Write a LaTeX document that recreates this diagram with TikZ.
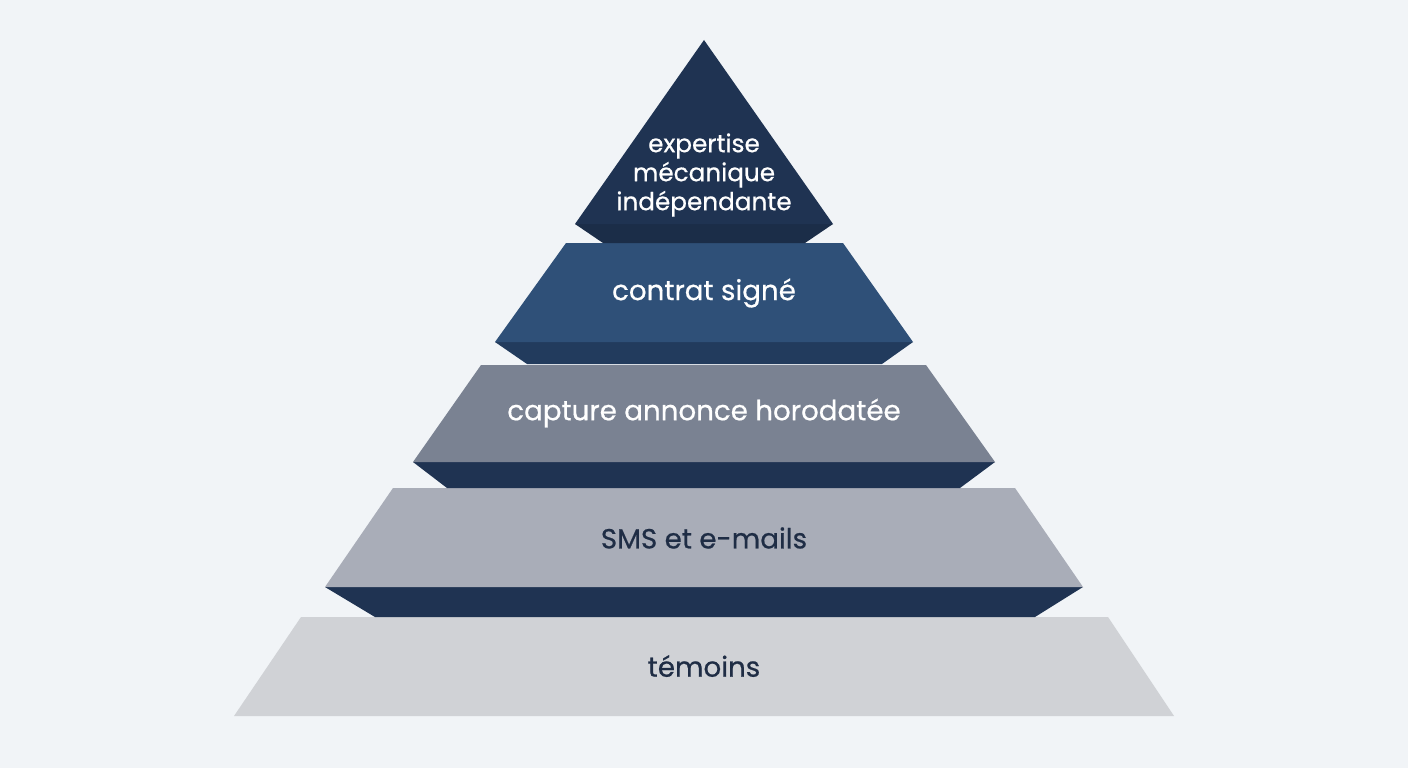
\documentclass[tikz,border=0pt]{standalone}
\usepackage{fontspec}
\setmainfont{Poppins}[FakeBold=0.6]
\definecolor{bg}{HTML}{F1F4F7}
\definecolor{navy}{HTML}{1F3352}
\definecolor{navyd}{HTML}{1B2D48}
\definecolor{blue2}{HTML}{2F5078}
\definecolor{blue2d}{HTML}{223B5D}
\definecolor{slate3}{HTML}{7A8292}
\definecolor{gray4}{HTML}{A9ADB8}
\definecolor{gray5}{HTML}{D0D2D6}
\definecolor{txtd}{HTML}{1F2D45}
\tikzset{
  lbl/.style={font=\fontsize{27.7}{30}\selectfont, align=center, inner sep=0pt},
  lblw/.style={lbl, text=white},
  lbld/.style={lbl, text=txtd},
}
\begin{document}
\begin{tikzpicture}[x=1pt,y=-1pt]
\fill[bg] (0,0) rectangle (1408,768);
\useasboundingbox (0,0) rectangle (1408,768);
% layer 5
\fill[gray5] (301,617) -- (1108,617) -- (1174,716) -- (234,716) -- cycle;
% layer 4
\fill[navy] (325,587) -- (1083,587) -- (1035,617) -- (375,617) -- cycle;
\fill[gray4] (393,488) -- (1015,488) -- (1083,587) -- (325,587) -- cycle;
% layer 3
\fill[navy] (413,462) -- (995,462) -- (960,488) -- (447,488) -- cycle;
\fill[slate3] (481,365) -- (926,365) -- (995,462) -- (413,462) -- cycle;
% layer 2
\fill[blue2d] (495,342) -- (913,342) -- (882,364) -- (527,364) -- cycle;
\fill[blue2] (566,243) -- (843,243) -- (913,342) -- (495,342) -- cycle;
% top
\fill[navyd] (575,224) -- (833,224) -- (805,243) -- (603,243) -- cycle;
\fill[navy] (704,40) -- (833,224) -- (575,224) -- cycle;
% labels
\node[lblw, font=\fontsize{24.7}{29}\selectfont] (t1) at (704,175) {expertise\\mécanique\\indépendante};
\node[lblw] (t2) at (704,293) {contrat signé};
\node[lblw] (t3) at (704,413) {capture annonce horodatée};
\node[lbld] (t4) at (704,538) {SMS et e-mails};
\node[lbld] (t5) at (704,666) {témoins};
\end{tikzpicture}
\end{document}
